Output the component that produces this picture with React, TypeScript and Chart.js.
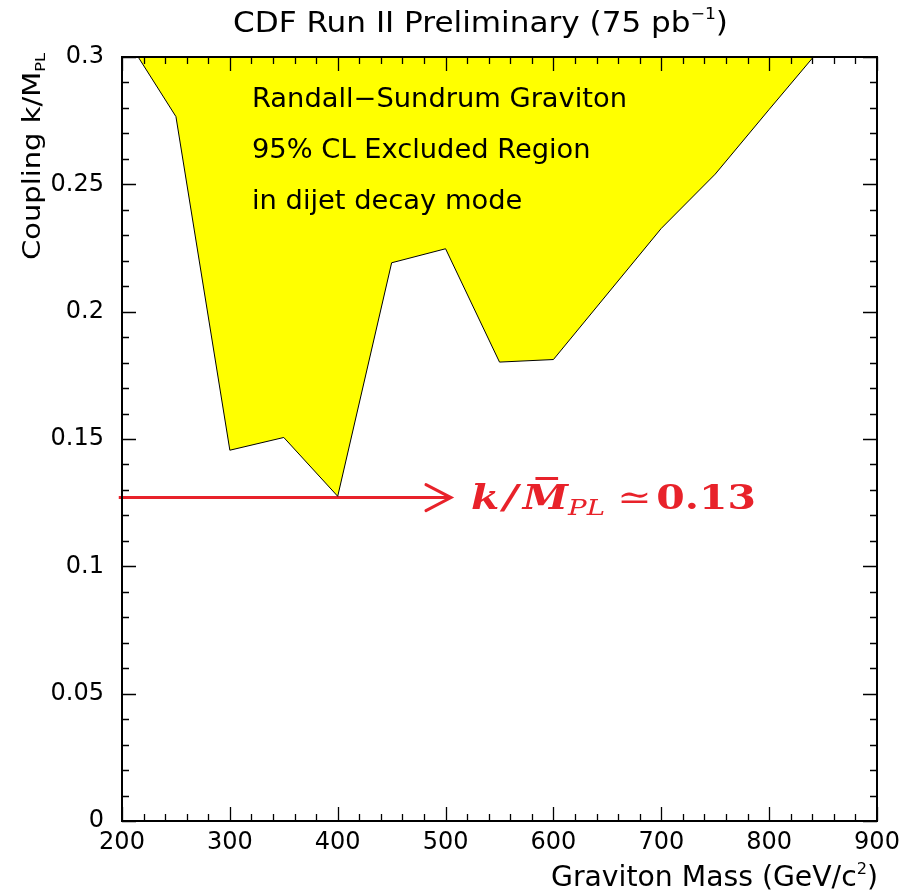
import React, { useEffect, useRef } from "react";
import { Chart, registerables } from "chart.js";

Chart.register(...registerables);

// ---- data ----
const massPoints = [215, 250, 300, 350, 400, 450, 500, 550, 600, 700, 750, 800, 841];
const couplingLimit = [0.3, 0.2766, 0.1456, 0.1506, 0.1275, 0.2192, 0.2247, 0.1802, 0.1812, 0.2327, 0.254, 0.2794, 0.3];

const arrowMass = [197, 505];
const arrowCoupling = [0.127, 0.127];

const xTickValues = [200, 300, 400, 500, 600, 700, 800, 900];
const xTickLabels = ["200", "300", "400", "500", "600", "700", "800", "900"];
const yTickValues = [0, 0.05, 0.1, 0.15, 0.2, 0.25, 0.3];
const yTickLabels = ["0", "0.05", "0.1", "0.15", "0.2", "0.25", "0.3"];

const titleMain = "CDF Run II Preliminary (75 pb";
const titleSup = "\u22121";
const xTitleMain = "Graviton Mass (GeV/c";
const xTitleSup = "2";
const yTitleMain = "Coupling k/M";
const yTitleSub = "PL";
const noteLines = ["Randall\u2212Sundrum Graviton", "95% CL Excluded Region", "in dijet decay mode"];

const FONT = '"DejaVu Sans"';
const RED = "#e8222a";

type Part = { text: string; font: string; dy?: number; gap?: number; bar?: boolean };

function drawParts(
  ctx: CanvasRenderingContext2D,
  parts: Part[],
  x: number,
  y: number,
  targetWidth: number | null,
  align: "left" | "right",
  forcedScale?: number
) {
  const widths = parts.map((p) => {
    ctx.font = p.font;
    return ctx.measureText(p.text).width + (p.gap || 0);
  });
  const total = widths.reduce((a, b) => a + b, 0);
  const s = forcedScale ?? (targetWidth ? targetWidth / total : 1);
  ctx.save();
  ctx.translate(x, y);
  ctx.scale(s, 1);
  ctx.textBaseline = "alphabetic";
  ctx.textAlign = "left";
  let cx = align === "right" ? -total : 0;
  parts.forEach((p, i) => {
    ctx.font = p.font;
    ctx.fillText(p.text, cx, p.dy || 0);
    if (p.bar) {
      const m = ctx.measureText(p.text);
      const w = m.width;
      const top = -(m.actualBoundingBoxAscent || 24);
      ctx.fillRect(cx + w * 0.28, (p.dy || 0) + top - 7, w * 0.5, 3);
    }
    cx += widths[i];
  });
  ctx.restore();
  return s;
}

const framePlugin = {
  id: "frameTicks",
  afterDatasetsDraw(chart: any) {
    const ctx = chart.ctx as CanvasRenderingContext2D;
    const { left, right, top, bottom } = chart.chartArea;
    const xs = chart.scales.x;
    const ys = chart.scales.y;
    ctx.save();
    // arrow head
    const meta = chart.getDatasetMeta(1);
    const last = meta.data[meta.data.length - 1];
    if (last) {
      ctx.strokeStyle = RED;
      ctx.lineWidth = 3;
      ctx.lineCap = "round";
      ctx.beginPath();
      ctx.moveTo(last.x - 25, last.y - 13);
      ctx.lineTo(last.x, last.y);
      ctx.lineTo(last.x - 25, last.y + 13);
      ctx.stroke();
    }
    ctx.strokeStyle = "#000";
    ctx.lineCap = "butt";
    ctx.lineWidth = 1.3;
    ctx.beginPath();
    for (let m = 200; m <= 900; m += 20) {
      const px = Math.round(xs.getPixelForValue(m)) + 0.5;
      const len = m % 100 === 0 ? 14 : 7;
      ctx.moveTo(px, bottom);
      ctx.lineTo(px, bottom - len);
      ctx.moveTo(px, top);
      ctx.lineTo(px, top + len);
    }
    for (let i = 0; i <= 30; i++) {
      const py = Math.round(ys.getPixelForValue(i / 100)) + 0.5;
      const len = i % 5 === 0 ? 14 : 7;
      ctx.moveTo(left, py);
      ctx.lineTo(left + len, py);
      ctx.moveTo(right, py);
      ctx.lineTo(right - len, py);
    }
    ctx.stroke();
    ctx.lineWidth = 2;
    ctx.strokeRect(left, top, right - left, bottom - top);
    ctx.restore();
  },
  afterDraw(chart: any) {
    const ctx = chart.ctx as CanvasRenderingContext2D;
    ctx.save();
    ctx.fillStyle = "#000";
    // title
    drawParts(
      ctx,
      [
        { text: titleMain, font: `29px ${FONT}` },
        { text: titleSup, font: `16px ${FONT}`, dy: -13 },
        { text: ")", font: `29px ${FONT}` },
      ],
      233,
      32,
      495,
      "left"
    );
    // x title
    drawParts(
      ctx,
      [
        { text: xTitleMain, font: `28px ${FONT}` },
        { text: xTitleSup, font: `16px ${FONT}`, dy: -12 },
        { text: ")", font: `28px ${FONT}` },
      ],
      878,
      886,
      327,
      "right"
    );
    // y title (rotated)
    ctx.save();
    ctx.translate(40, 260);
    ctx.rotate(-Math.PI / 2);
    drawParts(
      ctx,
      [
        { text: yTitleMain, font: `25px ${FONT}` },
        { text: yTitleSub, font: `14px ${FONT}`, dy: 5 },
      ],
      0,
      0,
      207,
      "left"
    );
    ctx.restore();
    // note
    const s = drawParts(ctx, [{ text: noteLines[0], font: `26px ${FONT}` }], 252, 107, 375, "left");
    drawParts(ctx, [{ text: noteLines[1], font: `26px ${FONT}` }], 252, 158, null, "left", s);
    drawParts(ctx, [{ text: noteLines[2], font: `26px ${FONT}` }], 252, 209, null, "left", s);
    // red formula
    ctx.fillStyle = RED;
    const serif = '"DejaVu Serif"';
    drawParts(
      ctx,
      [
        { text: "k", font: `italic bold 34px ${serif}`, gap: 3 },
        { text: "/", font: `italic bold 34px ${serif}`, gap: 4 },
        { text: "M", font: `italic bold 34px ${serif}`, bar: true },
        { text: "PL", font: `italic 23px ${serif}`, dy: 6, gap: 10 },
        { text: "\u2243", font: `34px ${serif}`, gap: 4 },
        { text: "0.13", font: `bold 34px ${serif}` },
      ],
      471,
      509,
      285,
      "left"
    );
    ctx.restore();
  },
};

export default function App() {
  const ref = useRef<HTMLCanvasElement | null>(null);
  useEffect(() => {
    if (!ref.current) return;
    const chart = new Chart(ref.current, {
      type: "line",
      data: {
        datasets: [
          {
            data: massPoints.map((m, i) => ({ x: m, y: couplingLimit[i] })),
            borderColor: "#000",
            borderWidth: 1,
            backgroundColor: "#ffff00",
            fill: "end",
            pointRadius: 0,
            tension: 0,
          },
          {
            data: arrowMass.map((m, i) => ({ x: m, y: arrowCoupling[i] })),
            borderColor: RED,
            borderWidth: 3,
            fill: false,
            pointRadius: 0,
            tension: 0,
            clip: false,
          } as any,
        ],
      },
      options: {
        animation: false,
        responsive: false,
        maintainAspectRatio: false,
        layout: { padding: { left: 0, right: 43, top: 57, bottom: 0 } },
        plugins: {
          legend: { display: false },
          tooltip: { enabled: false },
          title: { display: false },
        },
        scales: {
          x: {
            type: "linear",
            min: 200,
            max: 900,
            grid: { display: false, drawTicks: false },
            border: { display: false },
            afterBuildTicks: (s: any) => {
              s.ticks = xTickValues.map((v) => ({ value: v }));
            },
            afterFit: (s: any) => {
              s.height = 73;
            },
            ticks: {
              autoSkip: false,
              maxRotation: 0,
              padding: 7,
              color: "#000",
              font: { family: "DejaVu Sans", size: 24 },
              callback: (v: any) => xTickLabels[xTickValues.indexOf(Number(v))] ?? "",
            },
          },
          y: {
            type: "linear",
            min: 0,
            max: 0.3,
            grid: { display: false, drawTicks: false },
            border: { display: false },
            afterBuildTicks: (s: any) => {
              s.ticks = yTickValues.map((v) => ({ value: v }));
            },
            afterFit: (s: any) => {
              s.width = 122;
            },
            ticks: {
              autoSkip: false,
              padding: 18,
              color: "#000",
              font: { family: "DejaVu Sans", size: 24 },
              callback: (v: any) => {
                const idx = yTickValues.findIndex((t) => Math.abs(t - Number(v)) < 1e-9);
                return idx >= 0 ? yTickLabels[idx] : "";
              },
            },
          },
        },
      },
      plugins: [framePlugin],
    } as any);
    return () => chart.destroy();
  }, []);
  return (
    <div style={{ position: "absolute", left: 0, top: 0, width: 920, height: 894, background: "#fff" }}>
      <canvas ref={ref} width={920} height={894} style={{ display: "block" }} />
    </div>
  );
}
